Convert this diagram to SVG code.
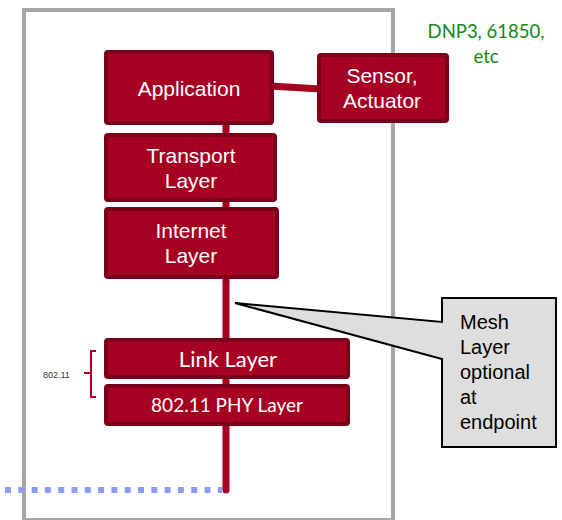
<svg xmlns="http://www.w3.org/2000/svg" width="562" height="520" viewBox="0 0 562 520">
<style>
.box{fill:#a60023;stroke:#7a0019;stroke-width:4}
.lbl{font-family:"Liberation Sans",Arial,sans-serif;font-size:21px;fill:#ffffff;text-anchor:middle}
.cal{font-family:Lato,"Liberation Sans",sans-serif;fill:#ffffff;text-anchor:middle}
.wire{stroke:#a50021;stroke-width:7;fill:none}
</style>
<rect x="24" y="10" width="369" height="510" fill="none" stroke="#a6a6a6" stroke-width="4"/>
<g id="connectors">
<line class="wire" x1="226" y1="120" x2="226" y2="490" stroke-linecap="round"/>
<line class="wire" x1="270" y1="86" x2="320" y2="89"/>
<line x1="5" y1="490" x2="222" y2="490" stroke="#8c9cf5" stroke-width="6" stroke-dasharray="6 7.3"/>
</g>
<g id="application">
<rect class="box" x="106" y="52" width="166" height="71" rx="2"/>
<text class="lbl" x="189" y="96">Application</text>
</g>
<g id="sensor">
<rect class="box" x="319" y="55" width="128" height="66" rx="2"/>
<text class="lbl" x="382" y="83">Sensor,</text>
<text class="lbl" x="382" y="108">Actuator</text>
</g>
<g id="transport">
<rect class="box" x="106" y="135" width="169" height="65" rx="2"/>
<text class="lbl" x="191" y="163">Transport</text>
<text class="lbl" x="191" y="188">Layer</text>
</g>
<g id="internet">
<rect class="box" x="106" y="209" width="171" height="68" rx="2"/>
<text class="lbl" x="191" y="238">Internet</text>
<text class="lbl" x="191" y="263">Layer</text>
</g>
<g id="link">
<rect class="box" x="106" y="340" width="242" height="37" rx="2"/>
<text class="cal" x="228" y="367" font-size="22">Link Layer</text>
</g>
<g id="phy">
<rect class="box" x="106" y="386" width="242" height="38" rx="2"/>
<text class="cal" x="227" y="412" font-size="19">802.11 PHY Layer</text>
</g>
<g id="brace">
<path d="M96 351 H91 V373 H84 M91 373 V397 H96" fill="none" stroke="#a50021" stroke-width="2"/>
<text x="43" y="378" font-family="'Liberation Sans',Arial,sans-serif" font-size="9" fill="#333333">802.11</text>
</g>
<g id="protocols">
<text x="486" y="38" font-family="Lato,'Liberation Sans',sans-serif" font-size="18.5" fill="#138a13" text-anchor="middle">DNP3, 61850,</text>
<text x="486" y="63" font-family="Lato,'Liberation Sans',sans-serif" font-size="18.5" fill="#138a13" text-anchor="middle">etc</text>
</g>
<g id="callout">
<path d="M442 298 H556 V447 H442 V359 L235 303 L442 322 Z" fill="#dedede" stroke="#000000" stroke-width="2" stroke-linejoin="miter"/>
<g font-family="'Liberation Sans',Arial,sans-serif" font-size="20" fill="#000000">
<text x="460" y="329">Mesh</text>
<text x="460" y="354">Layer</text>
<text x="460" y="379">optional</text>
<text x="460" y="404">at</text>
<text x="460" y="429">endpoint</text>
</g>
</g>
</svg>
